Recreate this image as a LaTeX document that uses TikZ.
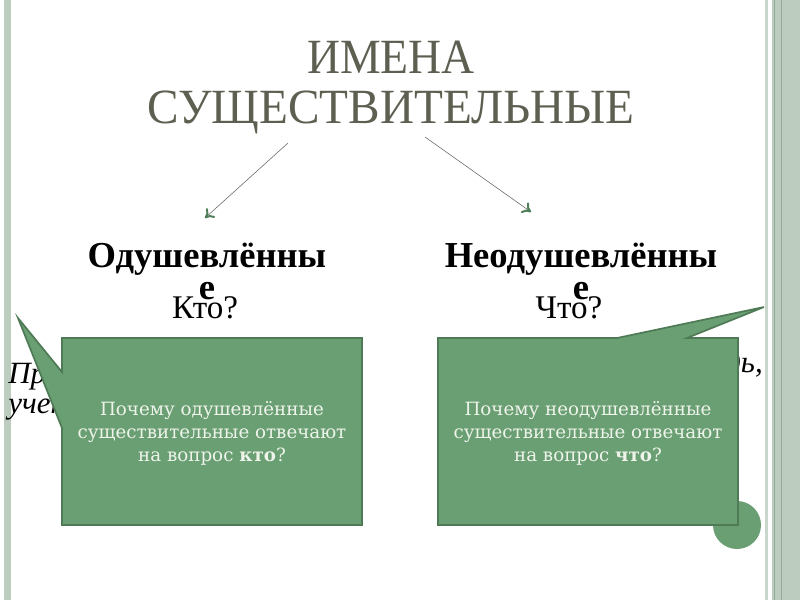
\documentclass[tikz,border=0pt]{standalone}
\usepackage{fontspec}
\setmainfont{Liberation Serif}
\newfontfamily\boxfont{DejaVu Serif}
\definecolor{titlegray}{HTML}{5D5F50}
\definecolor{boxgreen}{HTML}{6A9E73}
\definecolor{boxedge}{HTML}{4E7A56}
\definecolor{boxtext}{HTML}{EEF4EA}
\definecolor{stripgreen}{HTML}{BCCCBF}
\definecolor{stripdark}{HTML}{93AA97}
\definecolor{headgreen}{HTML}{4E7E57}
\usetikzlibrary{arrows.meta}

\begin{document}
\begin{tikzpicture}[x=0.025cm, y=-0.025cm,
	heading/.style={font=\fontsize{26}{22.8}\selectfont\bfseries, align=center, inner sep=0pt, anchor=north},
	question/.style={font=\fontsize{23.5}{24}\selectfont, inner sep=0pt, anchor=base},
	hidden/.style={font=\fontsize{22}{22}\selectfont\itshape, inner sep=0pt},
	callout/.style={fill=boxgreen, draw=boxedge, line width=1.2pt, line join=miter},
	hinttext/.style={font=\boxfont\fontsize{13}{16.4}\selectfont, text=boxtext, align=center, inner sep=0pt},
	pointer/.style={draw=black!60, line width=0.4pt, -{To[length=6pt, width=9pt, color=headgreen, line width=1.4pt]}}]
	\useasboundingbox (0,0) rectangle (800,600);

	% Bordes de la diapositiva
	\fill[stripgreen] (4,0) rectangle (11,600);
	\fill[stripgreen!80] (765,0) rectangle (768,600);
	\fill[stripgreen] (772,0) rectangle (800,600);
	\draw[stripdark, line width=0.6pt] (774,0) -- (774,600);
	\draw[stripdark, line width=0.6pt] (781,0) -- (781,600);

	% Titulo
	\node[font=\fontsize{35}{35.5}\selectfont, text=titlegray, align=center, inner sep=0pt, anchor=north] (title) at (391,41) {\scalebox{0.93}[1]{ИМЕНА}\\\scalebox{0.96}[1]{СУЩЕСТВИТЕЛЬНЫЕ}};

	% Flechas hacia los dos grupos
	\coordinate (leftstart) at (288,143);
	\coordinate (leftend) at (205,218);
	\coordinate (rightstart) at (425,137);
	\coordinate (rightend) at (531,212);
	\draw[pointer] (leftstart) -- (leftend);
	\draw[pointer] (rightstart) -- (rightend);

	% Grupos y preguntas
	\node[heading] (anim) at (207,243) {Одушевлённы\\е};
	\node[heading] (inanim) at (581,243) {Неодушевлённы\\е};
	\node[question] (who) at (205,318) {Кто?};
	\node[question] (what) at (569,318) {Что?};

	% Texto tapado por las llamadas
	\node[hidden, anchor=base west] (exleft) at (8,383) {Пр};
	\node[hidden, anchor=base west] (exleft2) at (8,413) {учен};
	\node[hidden, anchor=base east] (exright) at (763,372) {дь,};

	% Circulo detras de la llamada derecha
	\fill[boxgreen] (737,525) circle (24);

	% Llamada izquierda
	\draw[callout] (62,338) -- (362,338) -- (362,525) -- (62,525) -- (62,428) -- (18,318) -- (62,372) -- cycle;
	\node[hinttext] (hintleft) at (212,433) {Почему одушевлённые\\существительные отвечают\\на вопрос \textbf{кто}?};

	% Llamada derecha
	\draw[callout] (438,338) -- (617,338) -- (764,307) -- (687,338) -- (738,338) -- (738,525) -- (438,525) -- cycle;
	\node[hinttext] (hintright) at (588,433) {Почему неодушевлённые\\существительные отвечают\\на вопрос \textbf{что}?};
\end{tikzpicture}
\end{document}
